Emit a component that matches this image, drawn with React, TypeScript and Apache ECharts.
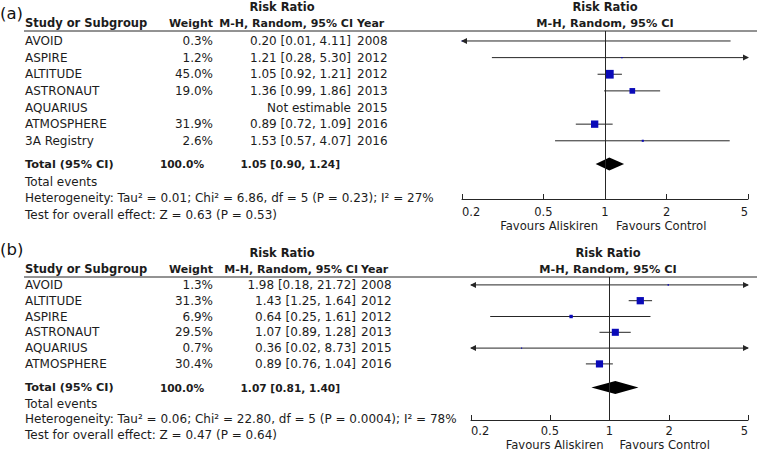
import React, { useEffect, useRef } from "react";
import * as echarts from "echarts";

// ---------- data ----------
const tickValues = [0.2, 0.5, 1, 2, 5];
const tickLabels = ["0.2", "0.5", "1", "2", "5"];

const studiesA = ["AVOID", "ASPIRE", "ALTITUDE", "ASTRONAUT", "AQUARIUS", "ATMOSPHERE", "3A Registry"];
const weightsA: (number | null)[] = [0.3, 1.2, 45.0, 19.0, null, 31.9, 2.6];
const ratiosA: (number | null)[] = [0.2, 1.21, 1.05, 1.36, null, 0.89, 1.53];
const lowersA: (number | null)[] = [0.01, 0.28, 0.92, 0.99, null, 0.72, 0.57];
const uppersA: (number | null)[] = [4.11, 5.3, 1.21, 1.86, null, 1.09, 4.07];
const yearsA = [2008, 2012, 2012, 2013, 2015, 2016, 2016];
const totalA = [1.05, 0.9, 1.24];
const totalWeightA = "100.0%";
const heterogeneityA = "Heterogeneity: Tau² = 0.01; Chi² = 6.86, df = 5 (P = 0.23); I² = 27%";
const overallA = "Test for overall effect: Z = 0.63 (P = 0.53)";

const studiesB = ["AVOID", "ALTITUDE", "ASPIRE", "ASTRONAUT", "AQUARIUS", "ATMOSPHERE"];
const weightsB: (number | null)[] = [1.3, 31.3, 6.9, 29.5, 0.7, 30.4];
const ratiosB: (number | null)[] = [1.98, 1.43, 0.64, 1.07, 0.36, 0.89];
const lowersB: (number | null)[] = [0.18, 1.25, 0.25, 0.89, 0.02, 0.76];
const uppersB: (number | null)[] = [21.72, 1.64, 1.61, 1.28, 8.73, 1.04];
const yearsB = [2008, 2012, 2012, 2013, 2015, 2016];
const totalB = [1.07, 0.81, 1.4];
const totalWeightB = "100.0%";
const heterogeneityB = "Heterogeneity: Tau² = 0.06; Chi² = 22.80, df = 5 (P = 0.0004); I² = 78%";
const overallB = "Test for overall effect: Z = 0.47 (P = 0.64)";

const panelTitles = ["(a)", "(b)"];

// ---------- styles / layout ----------
const FONT = "'DejaVu Sans', Verdana, sans-serif";
const FS = 12;
const FS_HEAD = 11;
const FS_TOTAL = 10.6;
const FS_TICK = 11.5;
const TEXT = "#1c1c1c";
const LINE = "#262626";
const BLUE = "#0a0ab8";
const PLOT_RIGHT = 748;

type Panel = {
  title: string;
  studies: string[];
  weights: (number | null)[];
  ratios: (number | null)[];
  lowers: (number | null)[];
  uppers: (number | null)[];
  years: number[];
  total: number[];
  totalWeight: string;
  het: string;
  overall: string;
};

const panels: Panel[] = [
  { title: panelTitles[0], studies: studiesA, weights: weightsA, ratios: ratiosA, lowers: lowersA, uppers: uppersA, years: yearsA, total: totalA, totalWeight: totalWeightA, het: heterogeneityA, overall: overallA },
  { title: panelTitles[1], studies: studiesB, weights: weightsB, ratios: ratiosB, lowers: lowersB, uppers: uppersB, years: yearsB, total: totalB, totalWeight: totalWeightB, het: heterogeneityB, overall: overallB },
];

const layouts = [
  { titleY: 13, gridLeft: 462, gridTop: 31, gridHeight: 168, yMin: -0.6, yMax: 9.5, weightRight: 213, ciRight: 351, yearLeft: 357, totalWeightRight: 204, totalCiRight: 340, rrCenter: 282, plotCenter: 605, totalRow: 7.4, eventsRow: 8.45, hetRow: 9.45, testRow: 10.45, labelMargin: 7, favoursDy: 27, favoursGap: 7 },
  { titleY: 249, gridLeft: 471, gridTop: 277, gridHeight: 143, yMin: -0.5, yMax: 8.55, weightRight: 213, ciRight: 356, yearLeft: 361, totalWeightRight: 204, totalCiRight: 340, rrCenter: 282, plotCenter: 608, totalRow: 6.5, eventsRow: 7.55, hetRow: 8.5, testRow: 9.5, labelMargin: 5, favoursDy: 25, favoursGap: 6 },
];

const lg = (v: number) => Math.log10(v);
const f2 = (v: number) => v.toFixed(2);

function txt(text: string, x: number, y: number, align: string, bold = false, size = FS, color = TEXT) {
  return {
    type: "text",
    x,
    y,
    style: { text, fill: color, fontSize: size, fontFamily: FONT, fontWeight: bold ? "bold" : "normal", align, verticalAlign: "middle" },
  };
}

function buildPanel(p: Panel, L: any, gi: number) {
  const grid = { left: L.gridLeft, top: L.gridTop, width: PLOT_RIGHT - L.gridLeft, height: L.gridHeight };
  const tickLogs = tickValues.map(lg);
  const xAxis = {
    type: "value",
    gridIndex: gi,
    min: lg(tickValues[0]),
    max: lg(tickValues[tickValues.length - 1]),
    position: "bottom",
    axisLine: { show: true, onZero: false, lineStyle: { color: LINE, width: 1 } },
    axisTick: { show: true, inside: true, length: 5, customValues: tickLogs, lineStyle: { color: LINE, width: 1 } },
    axisLabel: {
      show: true,
      customValues: tickLogs,
      margin: L.labelMargin,
      fontSize: FS_TICK,
      fontFamily: FONT,
      color: TEXT,
      alignMinLabel: "left",
      alignMaxLabel: "right",
      formatter: (v: number) => {
        let best = 0;
        tickLogs.forEach((t, k) => {
          if (Math.abs(t - v) < Math.abs(tickLogs[best] - v)) best = k;
        });
        return tickLabels[best];
      },
    },
    splitLine: { show: false },
  };
  const yAxis = { type: "value", gridIndex: gi, min: L.yMin, max: L.yMax, inverse: true, show: false };

  const markData: number[][] = [];
  p.ratios.forEach((r, i) => {
    if (r == null) return;
    markData.push([lg(r), lg(p.lowers[i] as number), lg(p.uppers[i] as number), i, p.weights[i] as number]);
  });

  const marks = {
    type: "custom",
    xAxisIndex: gi,
    yAxisIndex: gi,
    silent: true,
    clip: false,
    encode: { x: 0, y: 3 },
    data: markData,
    renderItem: (params: any, api: any) => {
      const cs = params.coordSys;
      const xMin = cs.x;
      const xMax = cs.x + cs.width;
      const row = api.value(3);
      const pE = api.coord([api.value(0), row]);
      const pL = api.coord([api.value(1), row]);
      const pH = api.coord([api.value(2), row]);
      const y = pE[1];
      const x1 = Math.max(pL[0], xMin);
      const x2 = Math.min(pH[0], xMax);
      const children: any[] = [
        { type: "line", shape: { x1, y1: y, x2, y2: y }, style: { stroke: LINE, lineWidth: 1 } },
      ];
      if (pL[0] < xMin) {
        children.push({ type: "polygon", shape: { points: [[xMin - 1, y], [xMin + 5, y - 3], [xMin + 5, y + 3]] }, style: { fill: LINE } });
      }
      if (pH[0] > xMax) {
        children.push({ type: "polygon", shape: { points: [[xMax + 1, y], [xMax - 5, y - 3], [xMax - 5, y + 3]] }, style: { fill: LINE } });
      }
      const s = Math.max(1.3 * Math.sqrt(api.value(4)), 0.8);
      children.push({ type: "rect", shape: { x: pE[0] - s / 2, y: y - s / 2, width: s, height: s }, style: { fill: BLUE } });
      return { type: "group", children };
    },
    markLine: {
      silent: true,
      symbol: ["none", "none"],
      label: { show: false },
      lineStyle: { color: LINE, width: 1, type: "solid" },
      data: [{ xAxis: 0 }],
    },
    z: 3,
  };

  const diamond = {
    type: "custom",
    xAxisIndex: gi,
    yAxisIndex: gi,
    silent: true,
    clip: false,
    encode: { x: 0, y: 3 },
    data: [[lg(p.total[0]), lg(p.total[1]), lg(p.total[2]), L.totalRow]],
    renderItem: (params: any, api: any) => {
      const row = api.value(3);
      const pE = api.coord([api.value(0), row]);
      const pL = api.coord([api.value(1), row]);
      const pH = api.coord([api.value(2), row]);
      const h = 6.5;
      return {
        type: "polygon",
        shape: { points: [[pL[0], pE[1]], [pE[0], pE[1] - h], [pH[0], pE[1]], [pE[0], pE[1] + h]] },
        style: { fill: "#000" },
      };
    },
    z: 4,
  };

  const table = {
    type: "custom",
    xAxisIndex: gi,
    yAxisIndex: gi,
    silent: true,
    clip: false,
    encode: { x: 0, y: 1 },
    data: p.studies.map((_, i) => [0, i]),
    renderItem: (params: any, api: any) => {
      const i = params.dataIndex;
      const y = api.coord([0, i])[1];
      const w = p.weights[i];
      const r = p.ratios[i];
      const ci = r == null ? "Not estimable" : `${f2(r)} [${f2(p.lowers[i] as number)}, ${f2(p.uppers[i] as number)}]`;
      const children: any[] = [txt(p.studies[i], 25, y, "left")];
      if (w != null) children.push(txt(`${w.toFixed(1)}%`, L.weightRight, y, "right"));
      children.push(txt(ci, L.ciRight, y, "right"));
      children.push(txt(String(p.years[i]), L.yearLeft, y, "left"));
      return { type: "group", children };
    },
  };

  const decor = {
    type: "custom",
    xAxisIndex: gi,
    yAxisIndex: gi,
    silent: true,
    clip: false,
    encode: { x: 0, y: 1 },
    data: [[0, 0]],
    renderItem: (params: any, api: any) => {
      const cs = params.coordSys;
      const top = cs.y;
      const bottom = cs.y + cs.height;
      const x1 = api.coord([0, 0])[0];
      const yr = (row: number) => api.coord([0, row])[1];
      const [t, lo, hi] = p.total;
      const children: any[] = [
        txt(p.title, 0, L.titleY, "left", false, 16.5, "#111"),
        { type: "line", shape: { x1: 24, y1: top, x2: 757, y2: top }, style: { stroke: LINE, lineWidth: 1 } },
        txt("Risk Ratio", L.rrCenter, top - 24, "center", true, 11.5),
        txt("Risk Ratio", L.plotCenter, top - 24, "center", true, 11.5),
        txt("Study or Subgroup", 25, top - 8, "left", true, 11.5),
        txt("Weight", L.weightRight, top - 8, "right", true, FS_HEAD),
        txt("M-H, Random, 95% CI", L.ciRight + 2, top - 8, "right", true, FS_HEAD),
        txt("Year", L.yearLeft, top - 8, "left", true, FS_HEAD),
        txt("M-H, Random, 95% CI", L.plotCenter, top - 8, "center", true, 11.3),
        txt("Total (95% CI)", 25, yr(L.totalRow), "left", true, 11.3),
        txt(p.totalWeight, L.totalWeightRight, yr(L.totalRow), "right", true, FS_TOTAL),
        txt(`${f2(t)} [${f2(lo)}, ${f2(hi)}]`, L.totalCiRight, yr(L.totalRow), "right", true, FS_TOTAL),
        txt("Total events", 25, yr(L.eventsRow), "left"),
        txt(p.het, 25, yr(L.hetRow), "left"),
        txt(p.overall, 25, yr(L.testRow), "left"),
        txt("Favours Aliskiren", x1 - L.favoursGap, bottom + L.favoursDy, "right", false, 11.6),
        txt("Favours Control", x1 + L.favoursGap + 4, bottom + L.favoursDy, "left", false, 11.6),
      ];
      return { type: "group", children };
    },
  };

  return { grid, xAxis, yAxis, series: [marks, diamond, table, decor] };
}

export default function App() {
  const ref = useRef<HTMLDivElement>(null);
  useEffect(() => {
    if (!ref.current) return;
    const chart = echarts.init(ref.current, undefined, { renderer: "svg" });
    const parts = panels.map((p, i) => buildPanel(p, layouts[i], i));
    chart.setOption({
      animation: false,
      backgroundColor: "#ffffff",
      textStyle: { fontFamily: FONT },
      grid: parts.map((q) => q.grid),
      xAxis: parts.map((q) => q.xAxis),
      yAxis: parts.map((q) => q.yAxis),
      series: parts.flatMap((q) => q.series),
    });
    return () => chart.dispose();
  }, []);
  return <div ref={ref} style={{ position: "fixed", left: 0, top: 0, width: 757, height: 456 }} />;
}
